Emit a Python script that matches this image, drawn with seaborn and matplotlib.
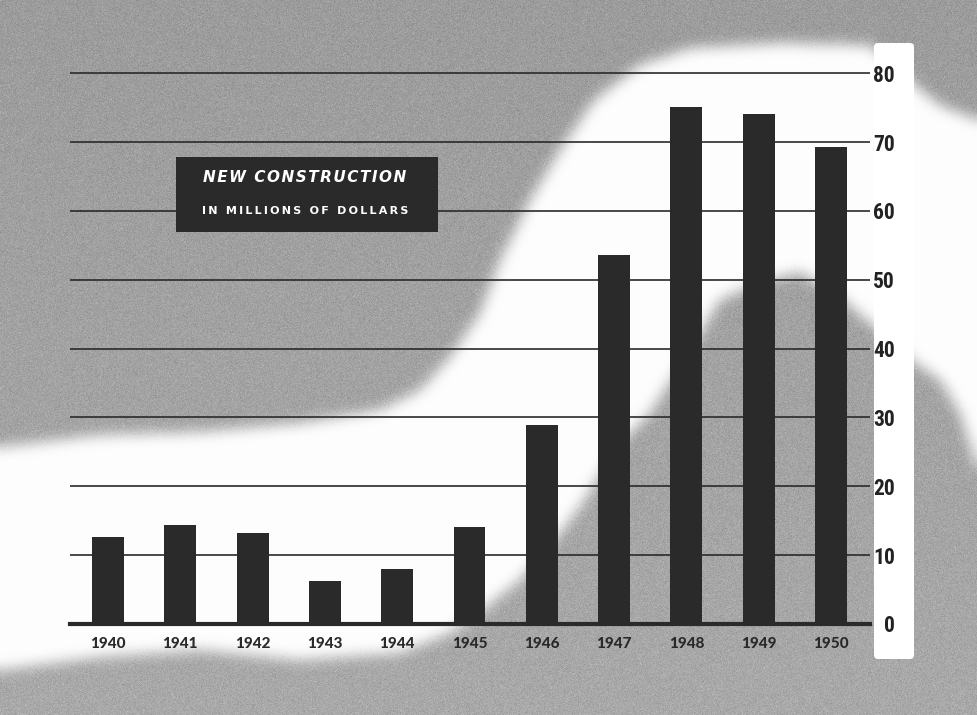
import numpy as np
import matplotlib
matplotlib.use("Agg")
import matplotlib.pyplot as plt
import seaborn as sns
from matplotlib.path import Path
from matplotlib.patches import Rectangle, FancyBboxPatch
from matplotlib import font_manager
from matplotlib.font_manager import FontProperties

# ---- data -------------------------------------------------------------
years = ["1940", "1941", "1942", "1943", "1944", "1945",
         "1946", "1947", "1948", "1949", "1950"]
construction = [12.7, 14.4, 13.2, 6.2, 8.0, 14.1, 28.9, 53.6, 75.1, 74.1, 69.3]
y_ticks = [0, 10, 20, 30, 40, 50, 60, 70, 80]
title_line1 = "NEW CONSTRUCTION"
title_line2 = "IN MILLIONS OF DOLLARS"

# ---- style ------------------------------------------------------------
W, H = 978, 715
INK = "#2a2a2a"
sns.set_theme(style="white")
plt.rcParams["font.family"] = ["DejaVu Sans"]


def condensed_bold(size):
    """Pick a narrow bold face for the value scale, if one is installed."""
    entries = font_manager.fontManager.ttflist

    def weight(e):
        w = e.weight
        if isinstance(w, str):
            return {"bold": 700, "heavy": 800, "black": 900, "semibold": 600,
                    "demibold": 600}.get(w, 400)
        return w

    narrow = [e for e in entries
              if ("Narrow" in e.name or "Condensed" in e.name
                  or "ondensed" in str(e.stretch) or "Condensed" in e.fname
                  or "Narrow" in e.fname)
              and weight(e) >= 600 and e.style == "normal"]
    prefs = ["Liberation Sans Narrow", "Roboto Condensed", "DejaVu Sans",
             "Open Sans", "Noto Sans"]
    for p in prefs:
        for e in narrow:
            if e.name.startswith(p):
                return FontProperties(fname=e.fname, size=size)
    if narrow:
        return FontProperties(fname=narrow[0].fname, size=size)
    return FontProperties(family="DejaVu Sans", weight="bold", size=size * 0.82)


scale_font = condensed_bold(15.5)
year_font = FontProperties(family=["Lato", "DejaVu Sans"], weight="black", size=11)


def spaced(text, sep="\u200a"):
    """Letter-spaced caption text."""
    return sep.join(text)


def box_blur(a, r):
    for axis in (0, 1):
        pad = [(0, 0), (0, 0)]
        pad[axis] = (r + 1, r)
        p = np.pad(a, pad, mode="edge")
        c = np.cumsum(p, axis=axis)
        if axis == 0:
            a = (c[2 * r + 1:, :] - c[:-2 * r - 1, :]) / (2 * r + 1)
        else:
            a = (c[:, 2 * r + 1:] - c[:, :-2 * r - 1]) / (2 * r + 1)
    return a


fig = plt.figure(figsize=(W / 100, H / 100), dpi=100)

# ---- printed-paper backdrop: grey stock with a light diagonal sweep ----
bg = fig.add_axes([0, 0, 1, 1], zorder=0)
bg.set_xlim(0, W)
bg.set_ylim(H, 0)
bg.axis("off")

sweep = [(0, 447), (100, 435), (200, 432), (300, 423), (380, 410), (420, 390),
         (450, 357), (480, 313), (500, 260), (530, 200), (560, 150), (594, 100),
         (640, 65), (690, 48), (780, 43), (870, 45), (915, 85), (940, 105),
         (978, 120), (978, 470), (960, 413), (940, 380), (915, 363), (870, 323),
         (840, 297), (800, 272), (760, 283), (720, 300), (680, 367), (650, 413),
         (620, 443), (580, 507), (560, 533), (520, 580), (480, 612), (450, 633),
         (400, 653), (300, 660), (200, 650), (100, 657), (0, 670)]
yy, xx = np.mgrid[0:H, 0:W]
pts = np.column_stack([xx.ravel() + 0.5, yy.ravel() + 0.5])
light = Path(sweep).contains_points(pts).reshape(H, W).astype(float)
for _ in range(3):
    light = box_blur(light, 6)

grain = np.random.default_rng(1950).normal(0.0, 0.025, size=(H, W))
grey = 0.61 + 0.05 * (yy / H)
lum = grey + (0.99 - grey) * light + grain * (1 - light)
lum = np.clip(lum, 0, 1)
bg.imshow(lum, cmap="gray", vmin=0, vmax=1, extent=(0, W, H, 0),
          interpolation="nearest", aspect="auto")

# white card behind the value scale
bg.add_patch(FancyBboxPatch((874, 43), 40, 616,
                            boxstyle="round,pad=0,rounding_size=4",
                            fc="white", ec="none"))

# ---- chart ------------------------------------------------------------
ax = fig.add_axes([70 / W, (H - 624) / H, 800 / W, 557.6 / H], zorder=1)
ax.patch.set_alpha(0)

sns.barplot(x=years, y=construction, color=INK, saturation=1, width=0.44,
            edgecolor=INK, linewidth=0, ax=ax, zorder=2)

ax.set_xlim(-0.526, 10.54)
ax.set_ylim(0, 81)
ax.set_yticks(y_ticks)
ax.set_yticklabels([str(v) for v in y_ticks])
ax.yaxis.grid(True, color=INK, linewidth=1.2)
ax.xaxis.grid(False)
ax.set_axisbelow(True)
ax.set_xlabel("")
ax.set_ylabel("")

for side in ("top", "left", "right"):
    ax.spines[side].set_visible(False)
ax.spines["bottom"].set_color(INK)
ax.spines["bottom"].set_linewidth(3.0)

ax.yaxis.tick_right()
ax.tick_params(axis="y", length=0, pad=18, labelcolor="#222222")
for lbl in ax.get_yticklabels():
    lbl.set_horizontalalignment("right")
    lbl.set_fontproperties(scale_font)

ax.tick_params(axis="x", length=0, pad=9, labelcolor="#2a2a2a")
for lbl in ax.get_xticklabels():
    lbl.set_fontproperties(year_font)

# caption panel
ax.add_patch(Rectangle((176 / W, (H - 232) / H), 262 / W, 75 / H,
                       transform=fig.transFigure, fc=INK, ec="none",
                       zorder=4, clip_on=False))
ax.text(305 / W, (H - 177) / H, spaced(title_line1), transform=fig.transFigure,
        color="white", fontsize=11, fontweight="bold", style="italic",
        ha="center", va="center", zorder=5)
ax.text(305 / W, (H - 211) / H, spaced(title_line2, "\u200a\u200a"),
        transform=fig.transFigure, color="white", fontsize=8,
        fontweight="bold", ha="center", va="center", zorder=5)

fig.savefig("out.png", dpi=100)
